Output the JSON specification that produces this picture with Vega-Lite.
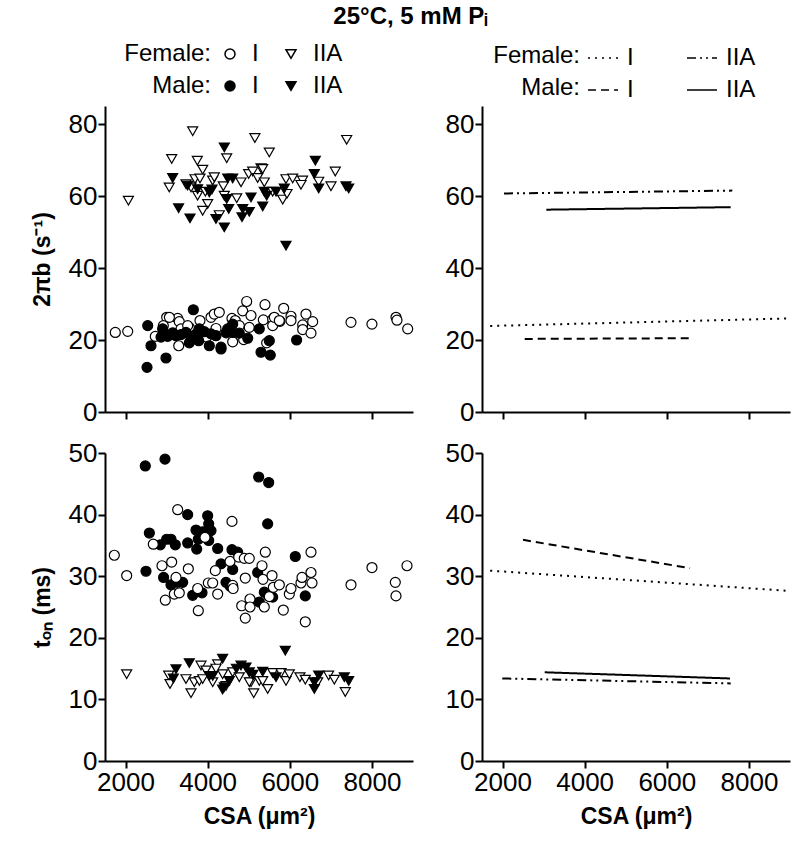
{
"$schema": "https://vega.github.io/schema/vega-lite/v6.json",
"padding": {"left": 31, "top": 5, "right": 4, "bottom": 5},
"title": {"text": "25°C, 5 mM Pᵢ", "fontSize": 24, "font": "Liberation Sans", "fontWeight": "bold", "anchor": "middle", "color": "black", "offset": 13},
"config": {
  "font": "Liberation Sans",
  "view": {"stroke": null},
  "axis": {"domainColor": "black", "domainWidth": 2, "tickColor": "black", "tickWidth": 2, "tickSize": 7, "labelFontSize": 26, "labelColor": "black", "grid": false, "titleFontSize": 23, "titleFontWeight": "bold", "titleColor": "black", "labelPadding": 1, "labelFont": "Liberation Sans", "titleFont": "Liberation Sans"},
  "legend": {"labelFont": "Liberation Sans", "titleFont": "Liberation Sans", "labelColor": "black", "titleColor": "black"}
},
"datasets": {
"pts": [
{"panel":"top","group":"F-IIA","csa":2070,"value":58.7},{"panel":"top","group":"F-IIA","csa":3635,"value":78.0},{"panel":"top","group":"F-IIA","csa":5150,"value":76.1},{"panel":"top","group":"F-IIA","csa":7385,"value":75.6},{"panel":"top","group":"F-IIA","csa":3124,"value":70.3},{"panel":"top","group":"F-IIA","csa":3748,"value":69.8},{"panel":"top","group":"F-IIA","csa":4463,"value":70.5},{"panel":"top","group":"F-IIA","csa":5500,"value":72.1},{"panel":"top","group":"F-IIA","csa":3879,"value":67.3},{"panel":"top","group":"F-IIA","csa":3064,"value":62.4},{"panel":"top","group":"F-IIA","csa":3472,"value":63.3},{"panel":"top","group":"F-IIA","csa":3692,"value":64.7},{"panel":"top","group":"F-IIA","csa":3813,"value":64.9},{"panel":"top","group":"F-IIA","csa":4122,"value":64.3},{"panel":"top","group":"F-IIA","csa":4161,"value":65.2},{"panel":"top","group":"F-IIA","csa":4381,"value":62.7},{"panel":"top","group":"F-IIA","csa":4405,"value":60.1},{"panel":"top","group":"F-IIA","csa":3754,"value":60.1},{"panel":"top","group":"F-IIA","csa":4000,"value":57.8},{"panel":"top","group":"F-IIA","csa":3879,"value":55.9},{"panel":"top","group":"F-IIA","csa":4283,"value":54.7},{"panel":"top","group":"F-IIA","csa":4707,"value":59.4},{"panel":"top","group":"F-IIA","csa":4812,"value":63.8},{"panel":"top","group":"F-IIA","csa":4999,"value":66.1},{"panel":"top","group":"F-IIA","csa":5097,"value":66.8},{"panel":"top","group":"F-IIA","csa":5299,"value":67.7},{"panel":"top","group":"F-IIA","csa":5218,"value":65.0},{"panel":"top","group":"F-IIA","csa":5379,"value":63.8},{"panel":"top","group":"F-IIA","csa":5827,"value":59.0},{"panel":"top","group":"F-IIA","csa":5932,"value":60.6},{"panel":"top","group":"F-IIA","csa":5907,"value":64.7},{"panel":"top","group":"F-IIA","csa":6070,"value":64.9},{"panel":"top","group":"F-IIA","csa":6311,"value":64.3},{"panel":"top","group":"F-IIA","csa":6272,"value":63.1},{"panel":"top","group":"F-IIA","csa":6703,"value":64.0},{"panel":"top","group":"F-IIA","csa":7003,"value":62.7},{"panel":"top","group":"F-IIA","csa":7108,"value":66.8},{"panel":"top","group":"F-IIA","csa":3594,"value":62.4},{"panel":"top","group":"F-IIA","csa":3943,"value":61.2},{"panel":"top","group":"F-IIA","csa":5340,"value":67.5},{"panel":"top","group":"F-IIA","csa":5583,"value":61.2},
{"panel":"top","group":"M-IIA","csa":3148,"value":65.0},{"panel":"top","group":"M-IIA","csa":3292,"value":56.6},{"panel":"top","group":"M-IIA","csa":3570,"value":53.8},{"panel":"top","group":"M-IIA","csa":3513,"value":62.9},{"panel":"top","group":"M-IIA","csa":3754,"value":61.9},{"panel":"top","group":"M-IIA","csa":4105,"value":61.8},{"panel":"top","group":"M-IIA","csa":4203,"value":53.6},{"panel":"top","group":"M-IIA","csa":4405,"value":51.3},{"panel":"top","group":"M-IIA","csa":4405,"value":73.5},{"panel":"top","group":"M-IIA","csa":4512,"value":56.4},{"panel":"top","group":"M-IIA","csa":4488,"value":64.9},{"panel":"top","group":"M-IIA","csa":4609,"value":64.9},{"panel":"top","group":"M-IIA","csa":4853,"value":56.4},{"panel":"top","group":"M-IIA","csa":5014,"value":55.6},{"panel":"top","group":"M-IIA","csa":4836,"value":54.1},{"panel":"top","group":"M-IIA","csa":5055,"value":59.6},{"panel":"top","group":"M-IIA","csa":5340,"value":57.1},{"panel":"top","group":"M-IIA","csa":5379,"value":61.2},{"panel":"top","group":"M-IIA","csa":5437,"value":60.1},{"panel":"top","group":"M-IIA","csa":5664,"value":61.2},{"panel":"top","group":"M-IIA","csa":5866,"value":62.1},{"panel":"top","group":"M-IIA","csa":5907,"value":46.2},{"panel":"top","group":"M-IIA","csa":6621,"value":69.8},{"panel":"top","group":"M-IIA","csa":6597,"value":66.1},{"panel":"top","group":"M-IIA","csa":6703,"value":62.1},{"panel":"top","group":"M-IIA","csa":7368,"value":62.7},{"panel":"top","group":"M-IIA","csa":7434,"value":62.1},{"panel":"top","group":"M-IIA","csa":4463,"value":59.2},{"panel":"top","group":"M-IIA","csa":4040,"value":61.0},
{"panel":"top","group":"F-I","csa":1751,"value":22.1},{"panel":"top","group":"F-I","csa":2053,"value":22.4},{"panel":"top","group":"F-I","csa":2725,"value":21.0},{"panel":"top","group":"F-I","csa":3002,"value":26.3},{"panel":"top","group":"F-I","csa":2920,"value":24.0},{"panel":"top","group":"F-I","csa":3270,"value":26.0},{"panel":"top","group":"F-I","csa":3309,"value":25.1},{"panel":"top","group":"F-I","csa":3351,"value":23.1},{"panel":"top","group":"F-I","csa":3295,"value":18.4},{"panel":"top","group":"F-I","csa":3553,"value":23.5},{"panel":"top","group":"F-I","csa":3813,"value":25.4},{"panel":"top","group":"F-I","csa":3976,"value":20.8},{"panel":"top","group":"F-I","csa":4081,"value":26.3},{"panel":"top","group":"F-I","csa":4161,"value":27.2},{"panel":"top","group":"F-I","csa":4283,"value":27.7},{"panel":"top","group":"F-I","csa":4203,"value":23.2},{"panel":"top","group":"F-I","csa":4609,"value":19.5},{"panel":"top","group":"F-I","csa":4592,"value":26.0},{"panel":"top","group":"F-I","csa":4673,"value":25.4},{"panel":"top","group":"F-I","csa":4770,"value":24.0},{"panel":"top","group":"F-I","csa":4877,"value":20.1},{"panel":"top","group":"F-I","csa":4853,"value":28.1},{"panel":"top","group":"F-I","csa":4950,"value":30.7},{"panel":"top","group":"F-I","csa":5055,"value":26.8},{"panel":"top","group":"F-I","csa":5014,"value":23.5},{"panel":"top","group":"F-I","csa":5396,"value":29.8},{"panel":"top","group":"F-I","csa":5355,"value":25.6},{"panel":"top","group":"F-I","csa":5583,"value":25.8},{"panel":"top","group":"F-I","csa":5583,"value":24.0},{"panel":"top","group":"F-I","csa":5437,"value":19.2},{"panel":"top","group":"F-I","csa":5761,"value":25.2},{"panel":"top","group":"F-I","csa":5851,"value":28.8},{"panel":"top","group":"F-I","csa":6029,"value":26.6},{"panel":"top","group":"F-I","csa":6029,"value":25.4},{"panel":"top","group":"F-I","csa":6394,"value":27.2},{"panel":"top","group":"F-I","csa":6314,"value":24.2},{"panel":"top","group":"F-I","csa":6314,"value":22.9},{"panel":"top","group":"F-I","csa":6516,"value":21.9},{"panel":"top","group":"F-I","csa":6557,"value":25.1},{"panel":"top","group":"F-I","csa":7490,"value":24.9},{"panel":"top","group":"F-I","csa":8000,"value":24.4},{"panel":"top","group":"F-I","csa":8586,"value":26.3},{"panel":"top","group":"F-I","csa":8610,"value":25.5},{"panel":"top","group":"F-I","csa":8871,"value":23.1},{"panel":"top","group":"F-I","csa":5623,"value":26.3},{"panel":"top","group":"F-I","csa":5745,"value":25.4},{"panel":"top","group":"F-I","csa":3513,"value":24.0},{"panel":"top","group":"F-I","csa":3068,"value":26.3},
{"panel":"top","group":"M-I","csa":2523,"value":12.4},{"panel":"top","group":"M-I","csa":2540,"value":24.0},{"panel":"top","group":"M-I","csa":2620,"value":18.4},{"panel":"top","group":"M-I","csa":2985,"value":15.0},{"panel":"top","group":"M-I","csa":2864,"value":20.8},{"panel":"top","group":"M-I","csa":3026,"value":21.0},{"panel":"top","group":"M-I","csa":3229,"value":21.2},{"panel":"top","group":"M-I","csa":3553,"value":19.2},{"panel":"top","group":"M-I","csa":3594,"value":20.3},{"panel":"top","group":"M-I","csa":3651,"value":28.4},{"panel":"top","group":"M-I","csa":3781,"value":19.8},{"panel":"top","group":"M-I","csa":3797,"value":23.1},{"panel":"top","group":"M-I","csa":3918,"value":22.3},{"panel":"top","group":"M-I","csa":4040,"value":18.4},{"panel":"top","group":"M-I","csa":4081,"value":21.7},{"panel":"top","group":"M-I","csa":4203,"value":21.2},{"panel":"top","group":"M-I","csa":4325,"value":17.5},{"panel":"top","group":"M-I","csa":4488,"value":23.1},{"panel":"top","group":"M-I","csa":4609,"value":22.1},{"panel":"top","group":"M-I","csa":4770,"value":21.9},{"panel":"top","group":"M-I","csa":4975,"value":20.5},{"panel":"top","group":"M-I","csa":5257,"value":23.1},{"panel":"top","group":"M-I","csa":5299,"value":16.6},{"panel":"top","group":"M-I","csa":5501,"value":19.8},{"panel":"top","group":"M-I","csa":5525,"value":15.8},{"panel":"top","group":"M-I","csa":6166,"value":20.0},{"panel":"top","group":"M-I","csa":2903,"value":23.1},{"panel":"top","group":"M-I","csa":3472,"value":22.1},{"panel":"top","group":"M-I","csa":4325,"value":18.0},{"panel":"top","group":"M-I","csa":3150,"value":22.0},{"panel":"top","group":"M-I","csa":3350,"value":21.5},{"panel":"top","group":"M-I","csa":4609,"value":24.4},{"panel":"top","group":"M-I","csa":4450,"value":22.0},{"panel":"top","group":"M-I","csa":3700,"value":21.5},
{"panel":"bottom","group":"M-I","csa":2481,"value":47.9},{"panel":"bottom","group":"M-I","csa":2961,"value":49.0},{"panel":"bottom","group":"M-I","csa":5242,"value":46.1},{"panel":"bottom","group":"M-I","csa":5486,"value":45.2},{"panel":"bottom","group":"M-I","csa":3513,"value":40.0},{"panel":"bottom","group":"M-I","csa":4000,"value":39.8},{"panel":"bottom","group":"M-I","csa":5461,"value":38.5},{"panel":"bottom","group":"M-I","csa":2580,"value":37.0},{"panel":"bottom","group":"M-I","csa":3002,"value":36.0},{"panel":"bottom","group":"M-I","csa":3107,"value":36.0},{"panel":"bottom","group":"M-I","csa":3212,"value":35.1},{"panel":"bottom","group":"M-I","csa":2846,"value":35.1},{"panel":"bottom","group":"M-I","csa":3513,"value":35.4},{"panel":"bottom","group":"M-I","csa":3716,"value":37.5},{"panel":"bottom","group":"M-I","csa":3772,"value":36.0},{"panel":"bottom","group":"M-I","csa":3879,"value":37.2},{"panel":"bottom","group":"M-I","csa":4025,"value":38.5},{"panel":"bottom","group":"M-I","csa":4081,"value":37.4},{"panel":"bottom","group":"M-I","csa":4025,"value":35.8},{"panel":"bottom","group":"M-I","csa":3733,"value":34.4},{"panel":"bottom","group":"M-I","csa":4244,"value":34.5},{"panel":"bottom","group":"M-I","csa":4325,"value":32.0},{"panel":"bottom","group":"M-I","csa":4592,"value":34.3},{"panel":"bottom","group":"M-I","csa":4731,"value":33.9},{"panel":"bottom","group":"M-I","csa":4609,"value":31.1},{"panel":"bottom","group":"M-I","csa":2498,"value":30.8},{"panel":"bottom","group":"M-I","csa":2927,"value":29.8},{"panel":"bottom","group":"M-I","csa":3107,"value":28.6},{"panel":"bottom","group":"M-I","csa":3270,"value":29.0},{"panel":"bottom","group":"M-I","csa":3392,"value":29.0},{"panel":"bottom","group":"M-I","csa":3635,"value":26.9},{"panel":"bottom","group":"M-I","csa":3862,"value":27.3},{"panel":"bottom","group":"M-I","csa":4446,"value":29.0},{"panel":"bottom","group":"M-I","csa":4544,"value":28.4},{"panel":"bottom","group":"M-I","csa":5218,"value":30.6},{"panel":"bottom","group":"M-I","csa":5379,"value":27.4},{"panel":"bottom","group":"M-I","csa":5486,"value":26.8},{"panel":"bottom","group":"M-I","csa":5257,"value":25.8},{"panel":"bottom","group":"M-I","csa":5583,"value":26.6},{"panel":"bottom","group":"M-I","csa":6134,"value":33.2},{"panel":"bottom","group":"M-I","csa":6377,"value":26.8},
{"panel":"bottom","group":"F-I","csa":1727,"value":33.4},{"panel":"bottom","group":"F-I","csa":2028,"value":30.1},{"panel":"bottom","group":"F-I","csa":2676,"value":35.2},{"panel":"bottom","group":"F-I","csa":3270,"value":40.8},{"panel":"bottom","group":"F-I","csa":2888,"value":31.7},{"panel":"bottom","group":"F-I","csa":3124,"value":32.3},{"panel":"bottom","group":"F-I","csa":3229,"value":29.8},{"panel":"bottom","group":"F-I","csa":2969,"value":26.1},{"panel":"bottom","group":"F-I","csa":3188,"value":27.1},{"panel":"bottom","group":"F-I","csa":3309,"value":27.3},{"panel":"bottom","group":"F-I","csa":3529,"value":31.2},{"panel":"bottom","group":"F-I","csa":3772,"value":24.4},{"panel":"bottom","group":"F-I","csa":3757,"value":28.0},{"panel":"bottom","group":"F-I","csa":3935,"value":36.3},{"panel":"bottom","group":"F-I","csa":4016,"value":28.9},{"panel":"bottom","group":"F-I","csa":4122,"value":28.9},{"panel":"bottom","group":"F-I","csa":4186,"value":30.9},{"panel":"bottom","group":"F-I","csa":4244,"value":27.1},{"panel":"bottom","group":"F-I","csa":4592,"value":38.9},{"panel":"bottom","group":"F-I","csa":4544,"value":32.4},{"panel":"bottom","group":"F-I","csa":4609,"value":28.5},{"panel":"bottom","group":"F-I","csa":4620,"value":28.0},{"panel":"bottom","group":"F-I","csa":4755,"value":33.1},{"panel":"bottom","group":"F-I","csa":4892,"value":32.9},{"panel":"bottom","group":"F-I","csa":5014,"value":32.9},{"panel":"bottom","group":"F-I","csa":4916,"value":29.7},{"panel":"bottom","group":"F-I","csa":4829,"value":25.2},{"panel":"bottom","group":"F-I","csa":5031,"value":26.3},{"panel":"bottom","group":"F-I","csa":5031,"value":25.0},{"panel":"bottom","group":"F-I","csa":4916,"value":23.2},{"panel":"bottom","group":"F-I","csa":5323,"value":31.7},{"panel":"bottom","group":"F-I","csa":5347,"value":29.5},{"panel":"bottom","group":"F-I","csa":5404,"value":33.9},{"panel":"bottom","group":"F-I","csa":5379,"value":25.0},{"panel":"bottom","group":"F-I","csa":5567,"value":30.1},{"panel":"bottom","group":"F-I","csa":5501,"value":26.7},{"panel":"bottom","group":"F-I","csa":5599,"value":28.2},{"panel":"bottom","group":"F-I","csa":5745,"value":28.6},{"panel":"bottom","group":"F-I","csa":5842,"value":24.5},{"panel":"bottom","group":"F-I","csa":5988,"value":27.1},{"panel":"bottom","group":"F-I","csa":6029,"value":28.0},{"panel":"bottom","group":"F-I","csa":6272,"value":28.9},{"panel":"bottom","group":"F-I","csa":6297,"value":29.8},{"panel":"bottom","group":"F-I","csa":6516,"value":33.9},{"panel":"bottom","group":"F-I","csa":6516,"value":30.6},{"panel":"bottom","group":"F-I","csa":6540,"value":28.9},{"panel":"bottom","group":"F-I","csa":6377,"value":22.6},{"panel":"bottom","group":"F-I","csa":7490,"value":28.6},{"panel":"bottom","group":"F-I","csa":8001,"value":31.4},{"panel":"bottom","group":"F-I","csa":8569,"value":29.0},{"panel":"bottom","group":"F-I","csa":8586,"value":26.8},{"panel":"bottom","group":"F-I","csa":8854,"value":31.7},
{"panel":"bottom","group":"F-IIA","csa":2028,"value":14.1},{"panel":"bottom","group":"F-IIA","csa":3051,"value":13.9},{"panel":"bottom","group":"F-IIA","csa":3083,"value":12.5},{"panel":"bottom","group":"F-IIA","csa":3472,"value":13.3},{"panel":"bottom","group":"F-IIA","csa":3594,"value":11.0},{"panel":"bottom","group":"F-IIA","csa":3675,"value":12.8},{"panel":"bottom","group":"F-IIA","csa":3838,"value":15.5},{"panel":"bottom","group":"F-IIA","csa":3959,"value":14.7},{"panel":"bottom","group":"F-IIA","csa":3797,"value":13.0},{"panel":"bottom","group":"F-IIA","csa":4122,"value":12.8},{"panel":"bottom","group":"F-IIA","csa":4244,"value":15.7},{"panel":"bottom","group":"F-IIA","csa":4364,"value":14.1},{"panel":"bottom","group":"F-IIA","csa":4446,"value":12.2},{"panel":"bottom","group":"F-IIA","csa":4609,"value":14.4},{"panel":"bottom","group":"F-IIA","csa":4770,"value":13.6},{"panel":"bottom","group":"F-IIA","csa":5055,"value":12.8},{"panel":"bottom","group":"F-IIA","csa":5121,"value":11.0},{"panel":"bottom","group":"F-IIA","csa":5257,"value":13.0},{"panel":"bottom","group":"F-IIA","csa":5461,"value":11.7},{"panel":"bottom","group":"F-IIA","csa":5583,"value":14.3},{"panel":"bottom","group":"F-IIA","csa":5786,"value":14.3},{"panel":"bottom","group":"F-IIA","csa":5907,"value":13.0},{"panel":"bottom","group":"F-IIA","csa":5988,"value":14.1},{"panel":"bottom","group":"F-IIA","csa":6247,"value":13.6},{"panel":"bottom","group":"F-IIA","csa":6377,"value":13.2},{"panel":"bottom","group":"F-IIA","csa":6679,"value":12.8},{"panel":"bottom","group":"F-IIA","csa":6945,"value":13.9},{"panel":"bottom","group":"F-IIA","csa":7084,"value":13.2},{"panel":"bottom","group":"F-IIA","csa":7351,"value":11.2},{"panel":"bottom","group":"F-IIA","csa":3879,"value":13.3},{"panel":"bottom","group":"F-IIA","csa":5014,"value":12.8},{"panel":"bottom","group":"F-IIA","csa":5340,"value":13.0},{"panel":"bottom","group":"F-IIA","csa":4203,"value":15.0},
{"panel":"bottom","group":"M-IIA","csa":5890,"value":17.9},{"panel":"bottom","group":"M-IIA","csa":3229,"value":14.9},{"panel":"bottom","group":"M-IIA","csa":3553,"value":15.9},{"panel":"bottom","group":"M-IIA","csa":3164,"value":13.4},{"panel":"bottom","group":"M-IIA","csa":4122,"value":13.8},{"panel":"bottom","group":"M-IIA","csa":4364,"value":16.6},{"panel":"bottom","group":"M-IIA","csa":4364,"value":11.6},{"panel":"bottom","group":"M-IIA","csa":4528,"value":13.0},{"panel":"bottom","group":"M-IIA","csa":4812,"value":15.5},{"panel":"bottom","group":"M-IIA","csa":4933,"value":15.2},{"panel":"bottom","group":"M-IIA","csa":5014,"value":14.4},{"panel":"bottom","group":"M-IIA","csa":5340,"value":14.5},{"panel":"bottom","group":"M-IIA","csa":5664,"value":13.6},{"panel":"bottom","group":"M-IIA","csa":6597,"value":12.8},{"panel":"bottom","group":"M-IIA","csa":6597,"value":11.7},{"panel":"bottom","group":"M-IIA","csa":6703,"value":13.9},{"panel":"bottom","group":"M-IIA","csa":7327,"value":13.6},{"panel":"bottom","group":"M-IIA","csa":7434,"value":13.0},{"panel":"bottom","group":"M-IIA","csa":4405,"value":12.0},{"panel":"bottom","group":"M-IIA","csa":4040,"value":13.8},{"panel":"bottom","group":"M-IIA","csa":4700,"value":15.0},{"panel":"bottom","group":"M-IIA","csa":5100,"value":14.0}
],
"fits": [
{"panel":"top","group":"F:IIA","csa":2036,"value":60.7},{"panel":"top","group":"F:IIA","csa":7595,"value":61.5},
{"panel":"top","group":"M:IIA","csa":3066,"value":56.2},{"panel":"top","group":"M:IIA","csa":7556,"value":56.9},
{"panel":"top","group":"F:I","csa":1700,"value":23.9},{"panel":"top","group":"F:I","csa":9000,"value":26.0},
{"panel":"top","group":"M:I","csa":2540,"value":20.3},{"panel":"top","group":"M:I","csa":6565,"value":20.5},
{"panel":"bottom","group":"M:I","csa":2498,"value":35.9},{"panel":"bottom","group":"M:I","csa":6565,"value":31.3},
{"panel":"bottom","group":"F:I","csa":1700,"value":30.9},{"panel":"bottom","group":"F:I","csa":9000,"value":27.6},
{"panel":"bottom","group":"M:IIA","csa":3027,"value":14.4},{"panel":"bottom","group":"M:IIA","csa":7539,"value":13.4},
{"panel":"bottom","group":"F:IIA","csa":1994,"value":13.4},{"panel":"bottom","group":"F:IIA","csa":7556,"value":12.6}
]
},
"columns": 2,
"spacing": {"row": 15, "column": 29},
"resolve": {"scale": {"x": "independent", "y": "independent"}},
"concat": [
{
  "width": 308, "height": 306,
  "data": {"name": "pts"},
  "transform": [{"filter": "datum.panel == 'top'"}],
  "mark": {"type": "point", "filled": true, "stroke": "black", "strokeWidth": 1.2, "opacity": 1, "size": 100},
  "encoding": {
    "x": {"field": "csa", "type": "quantitative", "scale": {"domain": [1500, 9000], "nice": false, "zero": false}, "axis": {"values": [2000, 4000, 6000, 8000], "labels": false, "title": null}},
    "y": {"field": "value", "type": "quantitative", "scale": {"domain": [0, 85], "nice": false}, "axis": {"values": [0, 20, 40, 60, 80], "title": "2πb (s⁻¹)", "titlePadding": 14}},
    "shape": {"field": "group", "type": "nominal", "scale": {"domain": ["F-I", "F-IIA", "M-I", "M-IIA"], "range": ["circle", "triangle-down", "circle", "triangle-down"]}, "legend": {"orient": "none", "legendX": 19, "legendY": -64, "direction": "horizontal", "title": ["Female:", "Male:"], "titleOrient": "left", "titleAngle": 0, "titleFontSize": 24, "titleFontWeight": "normal", "titleLineHeight": 32, "titleAlign": "right", "titleBaseline": "middle", "titlePadding": -80, "columns": 2, "columnPadding": 20, "rowPadding": 8, "labelFontSize": 24, "labelExpr": "split(datum.label, '-')[1]", "symbolSize": 100, "labelOffset": 10, "encode": {"symbols": {"stroke": {"value": "black"}, "strokeWidth": {"value": 1.2}}}}},
    "fill": {"field": "group", "type": "nominal", "scale": {"domain": ["F-I", "F-IIA", "M-I", "M-IIA"], "range": ["white", "white", "black", "black"]}, "legend": {"orient": "none", "legendX": 19, "legendY": -64, "direction": "horizontal", "title": ["Female:", "Male:"], "titleOrient": "left", "titleAngle": 0, "titleFontSize": 24, "titleFontWeight": "normal", "titleLineHeight": 32, "titleAlign": "right", "titleBaseline": "middle", "titlePadding": -80, "columns": 2, "columnPadding": 20, "rowPadding": 8, "labelFontSize": 24, "labelExpr": "split(datum.label, '-')[1]", "symbolSize": 100, "labelOffset": 10, "encode": {"symbols": {"stroke": {"value": "black"}, "strokeWidth": {"value": 1.2}}}}}
  }
},
{
  "width": 308, "height": 306,
  "data": {"name": "fits"},
  "transform": [{"filter": "datum.panel == 'top'"}],
  "mark": {"type": "line", "color": "black", "strokeWidth": 2, "clip": true},
  "encoding": {
    "x": {"field": "csa", "type": "quantitative", "scale": {"domain": [1500, 9000], "nice": false, "zero": false}, "axis": {"values": [2000, 4000, 6000, 8000], "labels": false, "title": null}},
    "y": {"field": "value", "type": "quantitative", "scale": {"domain": [0, 85], "nice": false}, "axis": {"values": [0, 20, 40, 60, 80], "title": null}},
    "strokeDash": {"field": "group", "type": "nominal", "scale": {"domain": ["F:I", "F:IIA", "M:I", "M:IIA"], "range": [[2, 5], [9, 4, 2, 4, 2, 4], [8, 5], [1, 0]]}, "legend": {"orient": "none", "legendX": 388, "legendY": -64, "direction": "horizontal", "title": ["Female:", "Male:"], "titleOrient": "left", "titleAngle": 0, "titleFontSize": 24, "titleFontWeight": "normal", "titleLineHeight": 32, "titleAlign": "right", "titleBaseline": "middle", "titlePadding": -80, "columns": 2, "columnPadding": 50, "rowPadding": 4, "labelFontSize": 24, "labelExpr": "split(datum.label, ':')[1]", "symbolType": "stroke", "symbolSize": 900, "labelOffset": 8, "encode": {"symbols": {"stroke": {"value": "black"}, "strokeWidth": {"value": 2.5}}}}}
  }
},
{
  "width": 308, "height": 308,
  "data": {"name": "pts"},
  "transform": [{"filter": "datum.panel == 'bottom'"}],
  "mark": {"type": "point", "filled": true, "stroke": "black", "strokeWidth": 1.2, "opacity": 1, "size": 100},
  "encoding": {
    "x": {"field": "csa", "type": "quantitative", "scale": {"domain": [1500, 9000], "nice": false, "zero": false}, "axis": {"values": [2000, 4000, 6000, 8000], "format": "d", "title": "CSA (μm²)", "titlePadding": 10}},
    "y": {"field": "value", "type": "quantitative", "scale": {"domain": [0, 50], "nice": false}, "axis": {"values": [0, 10, 20, 30, 40, 50], "title": "tₒₙ (ms)", "titlePadding": 14}},
    "shape": {"field": "group", "type": "nominal", "scale": {"domain": ["F-I", "F-IIA", "M-I", "M-IIA"], "range": ["circle", "triangle-down", "circle", "triangle-down"]}},
    "fill": {"field": "group", "type": "nominal", "scale": {"domain": ["F-I", "F-IIA", "M-I", "M-IIA"], "range": ["white", "white", "black", "black"]}}
  }
},
{
  "width": 308, "height": 308,
  "data": {"name": "fits"},
  "transform": [{"filter": "datum.panel == 'bottom'"}],
  "mark": {"type": "line", "color": "black", "strokeWidth": 2, "clip": true},
  "encoding": {
    "x": {"field": "csa", "type": "quantitative", "scale": {"domain": [1500, 9000], "nice": false, "zero": false}, "axis": {"values": [2000, 4000, 6000, 8000], "format": "d", "title": "CSA (μm²)", "titlePadding": 10}},
    "y": {"field": "value", "type": "quantitative", "scale": {"domain": [0, 50], "nice": false}, "axis": {"values": [0, 10, 20, 30, 40, 50], "title": null}},
    "strokeDash": {"field": "group", "type": "nominal", "scale": {"domain": ["F:I", "F:IIA", "M:I", "M:IIA"], "range": [[2, 5], [9, 4, 2, 4, 2, 4], [8, 5], [1, 0]]}}
  }
}
]
}
